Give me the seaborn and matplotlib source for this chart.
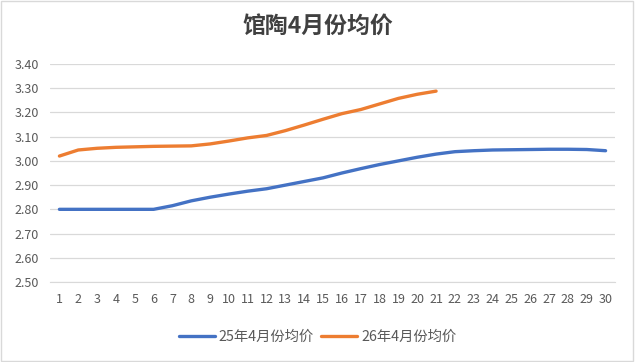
"""Line chart of average April prices, two years compared."""
import matplotlib
matplotlib.use("Agg")
import matplotlib.pyplot as plt
import seaborn as sns
import pandas as pd

days = list(range(1, 31))
price_25 = [2.80, 2.80, 2.80, 2.80, 2.80, 2.80, 2.815, 2.835, 2.85, 2.863,
            2.875, 2.885, 2.90, 2.915, 2.93, 2.95, 2.968, 2.985, 3.00, 3.015,
            3.028, 3.038, 3.042, 3.045, 3.046, 3.047, 3.048, 3.048, 3.047, 3.042]
price_26 = [3.02, 3.045, 3.052, 3.056, 3.058, 3.060, 3.061, 3.062, 3.070, 3.082,
            3.095, 3.105, 3.125, 3.148, 3.172, 3.195, 3.212, 3.235, 3.258, 3.275,
            3.288]
series_names = ["25年4月份均价", "26年4月份均价"]
title = "馆陶4月份均价"
yticks = [2.50, 2.60, 2.70, 2.80, 2.90, 3.00, 3.10, 3.20, 3.30, 3.40]

rows = [{"day": d, "price": p, "series": series_names[0]} for d, p in zip(days, price_25)]
rows += [{"day": d, "price": p, "series": series_names[1]} for d, p in zip(days, price_26)]
dfrm = pd.DataFrame(rows)

sns.set_style("white")
plt.rcParams["font.family"] = ["Noto Sans CJK SC", "DejaVu Sans"]

fig = plt.figure(figsize=(6.35, 3.62), dpi=100)
ax = fig.add_axes([50 / 635, 1 - 282 / 362, 565 / 635, 218 / 362])
sns.lineplot(data=dfrm, x="day", y="price", hue="series",
             palette=["#4472C4", "#ED7D31"], linewidth=2.4, ax=ax, legend=False)

ax.set_xlim(0.5, 30.5)
ax.set_ylim(2.50, 3.40)
ax.set_yticks(yticks)
ax.set_yticklabels(["{:.2f}".format(v) for v in yticks])
ax.set_xticks(days)
ax.set_xticklabels([str(d) for d in days])
ax.grid(axis="y", color="#D9D9D9", linewidth=0.9)
ax.set_axisbelow(True)
for side in ["left", "right", "top"]:
    ax.spines[side].set_visible(False)
ax.spines["bottom"].set_color("#D9D9D9")
ax.tick_params(axis="both", length=0, labelsize=9, colors="#595959", pad=8)
ax.set_xlabel("")
ax.set_ylabel("")

fig.text(0.5, 1 - 27 / 362, title, ha="center", va="center",
         fontsize=16.5, fontweight="bold", color="#404040")

# legend below the plot
handles = [plt.Line2D([], [], color=c, linewidth=2.4) for c in ["#4472C4", "#ED7D31"]]
fig.legend(handles, series_names, loc="center", bbox_to_anchor=(0.5, 1 - 337 / 362),
           ncol=2, frameon=False, fontsize=10.3, labelcolor="#595959",
           handlelength=2.5, handletextpad=0.3, columnspacing=0.5)

# outer chart border
fig.patches.append(plt.Rectangle((0.002, 0.003), 0.995, 0.993, transform=fig.transFigure,
                                 fill=False, edgecolor="#D9D9D9", linewidth=1))

fig.savefig("out.png", dpi=100)
